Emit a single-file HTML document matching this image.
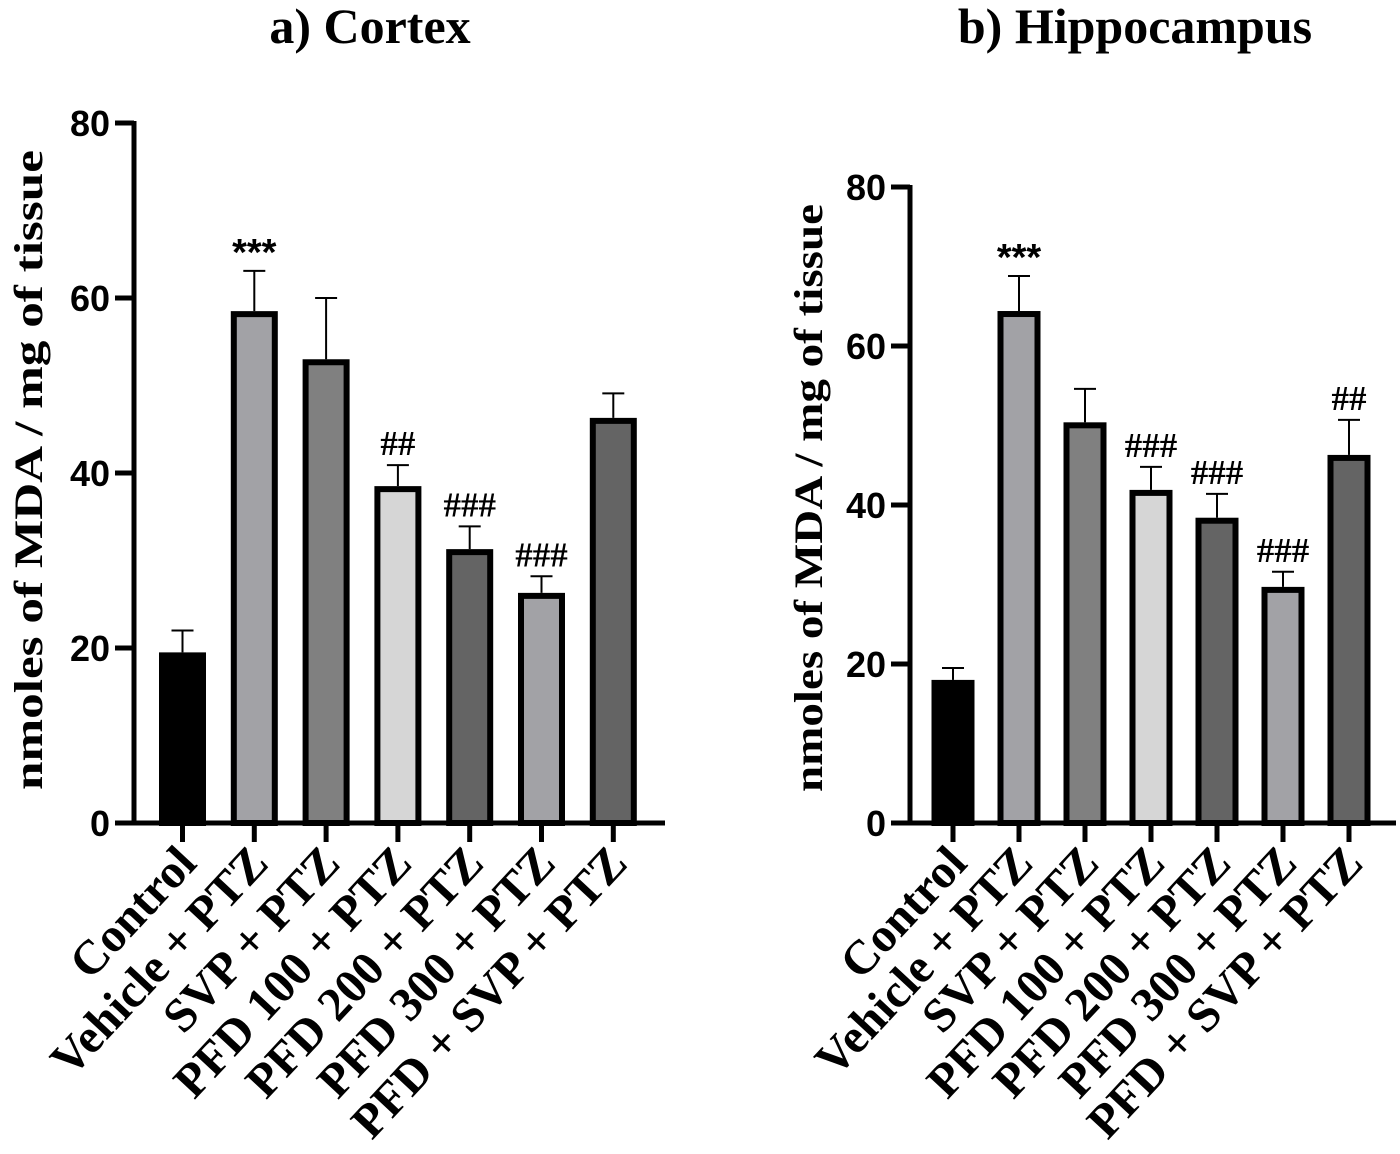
<!DOCTYPE html>
<html><head><meta charset="utf-8"><style>
html,body{margin:0;padding:0;background:#fff;}
svg{display:block;}
.t{font-family:"Liberation Serif",serif;font-weight:bold;fill:#000;}
.n{font-family:"Liberation Sans",sans-serif;font-weight:bold;fill:#000;}
</style></head><body>
<svg id="chart" width="1400" height="1154" viewBox="0 0 1400 1154" xmlns="http://www.w3.org/2000/svg"></svg>
<script>
const categories = ["Control","Vehicle + PTZ","SVP + PTZ","PFD 100 + PTZ","PFD 200 + PTZ","PFD 300 + PTZ","PFD + SVP + PTZ"];
const colors = ["#000000","#a2a2a6","#808080","#d6d6d6","#646464","#a2a2a6","#646464"];
const cortexValues = [19.5, 58.5, 53.0, 38.5, 31.3, 26.3, 46.3];
const cortexErrors = [22.0, 63.1, 60.0, 40.9, 33.9, 28.2, 49.1];
const cortexMarks = ["", "***", "", "##", "###", "###", ""];
const hippoValues = [18.0, 64.4, 50.4, 41.9, 38.4, 29.7, 46.3];
const hippoErrors = [19.5, 68.8, 54.6, 44.8, 41.4, 31.6, 50.7];
const hippoMarks = ["", "***", "", "###", "###", "###", "##"];
const yTicks = [0, 20, 40, 60, 80];

const svg = document.getElementById('chart');
const NS = "http://www.w3.org/2000/svg";
function mk(tag, attrs, parent){
  const e = document.createElementNS(NS, tag);
  for (const k in attrs) e.setAttribute(k, attrs[k]);
  (parent||svg).appendChild(e);
  return e;
}

function drawPanel(cfg){
  const g = mk('g', {});
  
  
  const yScale = v => cfg.y0 - (v / 80) * (cfg.y0 - cfg.y80);
  const xScale = i => cfg.x0 + cfg.step * i;

  const title = mk('text', {x: cfg.titleX, y: 43, 'text-anchor':'middle', class:'t', 'font-size': 50}, g);
  title.textContent = cfg.title;
  
  

  const yt = mk('text', {transform:`translate(${cfg.ytX},${cfg.ytY}) rotate(-90)`, 'text-anchor':'middle', class:'t', 'font-size': 40, textLength: cfg.ytLen, lengthAdjust:'spacingAndGlyphs'}, g);
  yt.textContent = "nmoles of MDA / mg of tissue";
  
  

  const ya = mk('line', {x1: cfg.axisX, x2: cfg.axisX, y1: yScale(80)-2, y2: cfg.y0+2, stroke:'#000', 'stroke-width':5}, g);
  
  
  yTicks.forEach(v => {
    const y = yScale(v);
    const tk = mk('line', {x1: cfg.axisX-19, x2: cfg.axisX, y1: y, y2: y, stroke:'#000', 'stroke-width':5}, g);
    
    
    const lb = mk('text', {x: cfg.axisX-24, y: y+13, 'text-anchor':'end', class:'n', 'font-size':36}, g);
    lb.textContent = String(v);
    
    
  });
  const xa = mk('line', {x1: cfg.axisX-19, x2: cfg.axisEnd, y1: cfg.y0, y2: cfg.y0, stroke:'#000', 'stroke-width':5}, g);
  
  

  categories.forEach((c, i) => {
    const cx = xScale(i);
    const v = cfg.values[i], e = cfg.errors[i];
    const top = yScale(v), et = yScale(e);
    const el = mk('line', {x1: cx, x2: cx, y1: et, y2: top, stroke:'#000', 'stroke-width':2}, g);
    
    
    const cap = mk('line', {x1: cx-11, x2: cx+11, y1: et, y2: et, stroke:'#000', 'stroke-width':2}, g);
    
    
    const bw = cfg.barW, sw = 6;
    const r = mk('rect', {x: cx - bw/2 + sw/2, y: top + sw/2, width: bw - sw, height: cfg.y0 - top - sw/2, fill: colors[i], stroke:'#000', 'stroke-width': sw}, g);
    
    
    const tk = mk('line', {x1: cx, x2: cx, y1: cfg.y0, y2: cfg.y0+19, stroke:'#000', 'stroke-width':5}, g);
    
    
    const lb = mk('text', {transform:`translate(${cx+16},${cfg.y0+42}) rotate(-47)`, 'text-anchor':'end', class:'t', 'font-size':48}, g);
    lb.textContent = c;
    
    
    if (cfg.marks[i]) {
      const star = cfg.marks[i][0]==='*';
      const m = mk('text', {x: cx, y: et - (star ? 6 : 10), 'text-anchor':'middle', class: star ? 'n' : 't', 'font-size': star ? 38 : 35}, g);
      m.textContent = cfg.marks[i];
      
      
    }
  });
}

drawPanel({name:'cortex-panel', title:'a) Cortex', titleX:370, ytX:42, ytY:470, ytLen:640,
  axisX:134, axisEnd:665, x0:182.5, step:71.8, barW:47, y0:823, y80:123,
  values:cortexValues, errors:cortexErrors, marks:cortexMarks});
drawPanel({name:'hippocampus-panel', title:'b) Hippocampus', titleX:1135, ytX:822, ytY:498, ytLen:588,
  axisX:910, axisEnd:1396, x0:953, step:66, barW:43, y0:823, y80:187,
  values:hippoValues, errors:hippoErrors, marks:hippoMarks});
</script>
</body></html>
